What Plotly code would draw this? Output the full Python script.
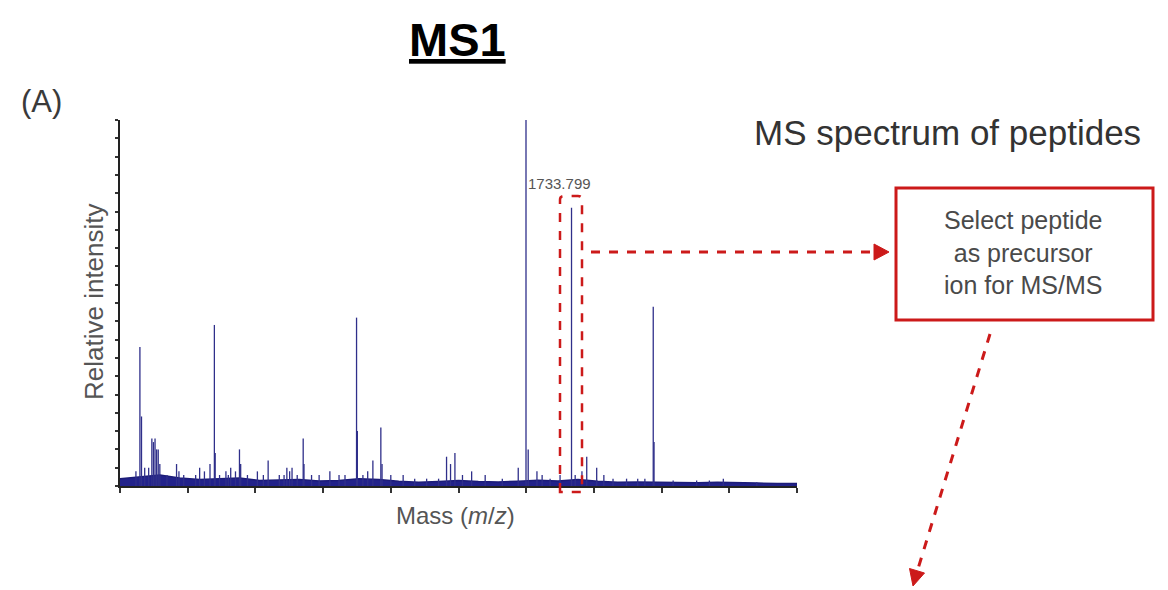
import plotly.graph_objects as go

# ---------------- data ----------------
peak_mz = [640, 650, 654, 662, 672, 680, 684, 688, 692, 696, 700, 718, 742, 748,
           760, 790, 800, 812, 826, 837, 839, 850, 866, 872, 878, 890, 900, 903,
           920, 945, 960, 972, 1000, 1012, 1019, 1026, 1032, 1045, 1060, 1062,
           1081, 1100, 1127, 1150, 1165, 1194, 1196, 1210, 1222, 1235, 1255,
           1258, 1280, 1311, 1340, 1370, 1400, 1420, 1430, 1441, 1460, 1483,
           1517, 1560, 1600, 1619.5, 1625, 1647, 1660, 1680, 1705, 1733.8,
           1743, 1760, 1772, 1797, 1815, 1838, 1872, 1900, 1918, 1939, 1941,
           1989, 2048, 2080, 2115, 2199]
peak_int = [4, 38, 19, 5, 5, 13, 12, 13, 10, 10, 6, 3, 6, 4,
            3, 3, 5, 4, 6, 44, 9, 3, 4, 3, 5, 4, 10, 6,
            3, 4, 3, 7, 3, 3, 5, 4, 5, 3, 13, 6,
            3, 3, 4, 3, 3, 46, 15, 3, 4, 7, 16,
            6, 3, 3, 2, 2, 2, 8, 6, 9, 3, 4,
            3, 2, 5, 100, 10, 4, 3, 2, 3, 76,
            3, 4, 8, 5, 3, 2, 2, 2, 2, 49, 12,
            1.5, 1.5, 1.5, 2, 1]
baseline_mz = [600, 650, 700, 750, 800, 850, 900, 950, 1000, 1050, 1100, 1150,
               1200, 1250, 1300, 1350, 1400, 1450, 1500, 1550, 1600, 1650, 1700,
               1750, 1800, 1850, 1900, 1950, 2000, 2050, 2100, 2150, 2200, 2250,
               2300]
baseline_int = [2.0, 2.5, 3.0, 2.2, 1.8, 2.0, 2.2, 1.5, 1.6, 1.8, 1.4, 1.5,
                2.0, 1.8, 1.3, 1.0, 1.2, 1.5, 1.2, 1.1, 1.3, 1.6, 1.4,
                1.8, 1.3, 1.0, 1.1, 1.0, 0.9, 0.9, 1.0, 0.8, 0.8, 0.7,
                0.7]

x_range = [600, 2300]
y_range = [0, 100]
precursor_label = "1733.799"

# ---------------- geometry helpers (pixel -> paper) ----------------
W, H = 1168, 590
L, R, T, B = 120, 797, 120, 486


def px(x):
    return (x - L) / (R - L)


def py(y):
    return (B - y) / (B - T)


# stick spectrum built from the peak lists
xs, ys = [], []
for m, h in zip(peak_mz, peak_int):
    xs += [m, m, None]
    ys += [0, h, None]

fig = go.Figure()
fig.add_trace(go.Scatter(x=baseline_mz, y=baseline_int, mode="lines",
                         fill="tozeroy", fillcolor="#22228a",
                         line=dict(color="#1c1c78", width=1.5),
                         hoverinfo="skip", showlegend=False))
fig.add_trace(go.Scatter(x=xs, y=ys, mode="lines",
                         line=dict(color="#2f2f8a", width=1.3),
                         hoverinfo="skip", showlegend=False))

font_family = "Arial, Liberation Sans, sans-serif"
red = "#cc1a1a"

shapes = []
# dashed red box around the precursor peak (rounded top)
bx0, bx1, by0, by1 = px(560), px(582), py(492), py(196)
r = 0.006
shapes.append(dict(type="path", xref="paper", yref="paper",
                   path=f"M {bx0},{by0} L {bx0},{by1 - 0.01} Q {bx0},{by1} {bx0 + r},{by1} "
                        f"L {bx1 - r},{by1} Q {bx1},{by1} {bx1},{by1 - 0.01} L {bx1},{by0} Z",
                   line=dict(color=red, width=2.5, dash="dash")))
# horizontal dashed arrow
shapes.append(dict(type="line", xref="paper", yref="paper",
                   x0=px(591), y0=py(252), x1=px(876), y1=py(252),
                   line=dict(color=red, width=3, dash="dash")))
shapes.append(dict(type="path", xref="paper", yref="paper",
                   path=f"M {px(889)},{py(252)} L {px(874)},{py(244)} L {px(874)},{py(260)} Z",
                   fillcolor=red, line=dict(color=red, width=1)))
# selection box
shapes.append(dict(type="rect", xref="paper", yref="paper",
                   x0=px(896), y0=py(320), x1=px(1153), y1=py(188),
                   line=dict(color=red, width=3)))
# downward dashed arrow
shapes.append(dict(type="line", xref="paper", yref="paper",
                   x0=px(990), y0=py(334), x1=px(917), y1=py(572),
                   line=dict(color=red, width=3, dash="dash")))
shapes.append(dict(type="path", xref="paper", yref="paper",
                   path=f"M {px(913)},{py(586)} L {px(924.5)},{py(573)} L {px(909.5)},{py(568.5)} Z",
                   fillcolor=red, line=dict(color=red, width=1)))


def ann(text, x, y, size, color, xanchor="center", **kw):
    return dict(text=text, x=px(x), y=py(y), xref="paper", yref="paper",
                xanchor=xanchor, yanchor="middle", showarrow=False,
                font=dict(size=size, color=color, family=font_family), **kw)


annotations = [
    ann("<u><b>MS1</b></u>", 457, 40, 47, "#000"),
    ann("(A)", 41, 101, 31, "#3a3a3a"),
    ann("Relative intensity", 94, 302, 26, "#555", textangle=-90),
    ann("Mass (<i>m</i>/<i>z</i>)", 455, 515, 24, "#555"),
    ann("MS spectrum of peptides", 947, 132, 35, "#333"),
    ann(precursor_label, 526, 183, 15, "#555", xanchor="left"),
    ann("Select peptide<br>as precursor<br>ion for MS/MS", 1023, 253, 25, "#4a4a4a",
        align="center"),
]

fig.update_layout(
    width=W, height=H,
    margin=dict(l=L, r=W - R, t=T, b=H - B, pad=0),
    paper_bgcolor="white", plot_bgcolor="white",
    showlegend=False,
    xaxis=dict(range=x_range, showgrid=False, zeroline=False, showline=True,
               linecolor="#222", linewidth=2, ticks="outside", ticklen=5,
               tickwidth=1.5, tickcolor="#333", tick0=x_range[0],
               dtick=(x_range[1] - x_range[0]) / 10, showticklabels=False),
    yaxis=dict(range=y_range, showgrid=False, zeroline=False, showline=True,
               linecolor="#222", linewidth=2, ticks="outside", ticklen=3,
               tickwidth=1.5, tickcolor="#333", tick0=0, dtick=5,
               showticklabels=False),
    shapes=shapes, annotations=annotations,
)

fig.write_html("out.html", config={"displayModeBar": False},
               post_script="document.body.style.margin='0';document.body.style.padding='0';")
